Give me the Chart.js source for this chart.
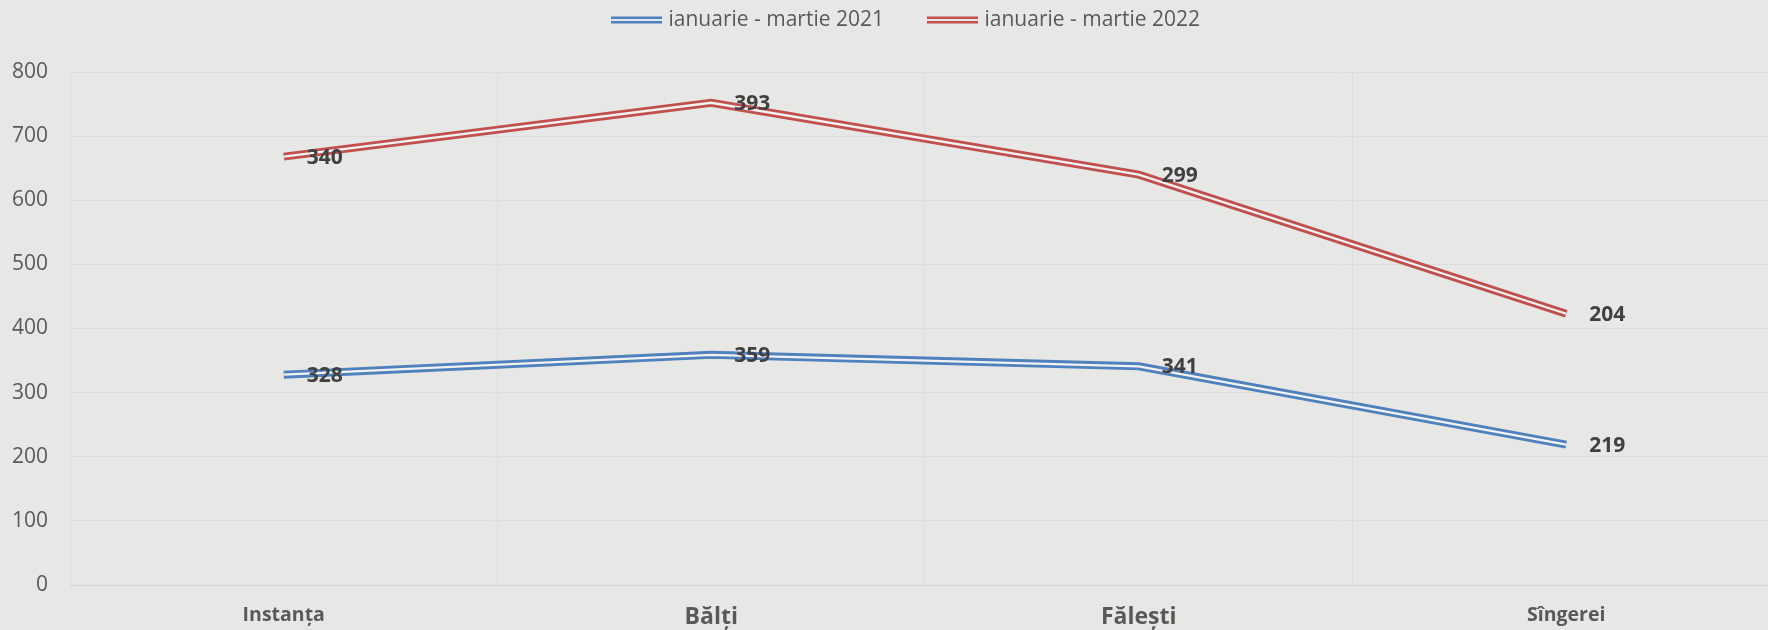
<!DOCTYPE html>
<html><head><meta charset="utf-8">
<script src="https://cdn.jsdelivr.net/npm/chart.js@4"></script>
<style>html,body{margin:0;padding:0;background:#e7e7e6;overflow:hidden}canvas{display:block}</style>
</head><body>
<canvas id="c" width="1768" height="630"></canvas>
<script>
const categories = ['Instanța', 'Bălți', 'Fălești', 'Sîngerei'];
const seriesNames = ['ianuarie - martie 2021', 'ianuarie - martie 2022'];
const values2021 = [328, 359, 341, 219];
const values2022 = [340, 393, 299, 204];

const BG = '#e7e7e6', GAP = '#f2f2f2', BLUE = '#4f81bd', RED = '#c0504d';
const categoryFontSize = [19.5, 23, 23, 19.5];

function legendIcon(color) {
  const c = document.createElement('canvas');
  c.width = 51; c.height = 8;
  const x = c.getContext('2d');
  x.fillStyle = GAP; x.fillRect(0, 2, 51, 4);
  x.fillStyle = color; x.fillRect(0, 0.5, 51, 2.6); x.fillRect(0, 4.9, 51, 2.6);
  return c;
}

const doubleLine = {
  id: 'doubleLine',
  afterDatasetDraw(chart, args) {
    const pts = args.meta.data, ctx = chart.ctx;
    ctx.save();
    ctx.beginPath();
    pts.forEach((p, i) => i ? ctx.lineTo(p.x, p.y) : ctx.moveTo(p.x, p.y));
    ctx.lineWidth = 2.3; ctx.strokeStyle = GAP; ctx.lineJoin = 'miter';
    ctx.stroke();
    ctx.restore();
  }
};

const valueLabels = {
  id: 'valueLabels',
  afterDatasetsDraw(chart) {
    const ctx = chart.ctx;
    ctx.save();
    ctx.font = 'bold 21px "Open Sans"';
    ctx.fillStyle = '#404040';
    ctx.textAlign = 'left';
    ctx.textBaseline = 'middle';
    chart.data.datasets.forEach((ds, i) => {
      chart.getDatasetMeta(i).data.forEach((p, j) => {
        ctx.fillText(String(ds.data[j].y), p.x + 23, p.y + 1);
      });
    });
    ctx.restore();
  }
};

const legendPatch = {
  id: 'legendPatch',
  beforeUpdate(chart) {
    const lg = chart.legend;
    if (!lg || lg._patched) return;
    lg._patched = true;
    const fit = lg.fit.bind(lg);
    lg.fit = function () { fit(); this.height = 72; };
    const draw = lg.draw.bind(lg);
    lg.draw = function (...a) {
      const ctx = chart.ctx;
      ctx.save(); ctx.translate(23, -36.5); draw(...a); ctx.restore();
    };
  }
};

const toPoints = arr => arr.map((v, i) => ({ x: i, y: v }));

new Chart(document.getElementById('c'), {
  type: 'line',
  data: {
    datasets: [
      { label: seriesNames[0], data: toPoints(values2021), borderColor: BLUE, backgroundColor: BLUE,
        borderWidth: 8, pointRadius: 0, pointStyle: legendIcon(BLUE), tension: 0, borderJoinStyle: 'miter', fill: false },
      { label: seriesNames[1], data: toPoints(values2022), borderColor: RED, backgroundColor: RED,
        borderWidth: 8, pointRadius: 0, pointStyle: legendIcon(RED), tension: 0, borderJoinStyle: 'miter', fill: false }
    ]
  },
  options: {
    responsive: false,
    animation: false,
    layout: { padding: 0 },
    plugins: {
      tooltip: { enabled: false },
      legend: {
        position: 'top',
        labels: {
          usePointStyle: true, pointStyleWidth: 44, padding: 46,
          color: '#595959', font: { family: 'Open Sans', size: 21 }
        }
      }
    },
    scales: {
      x: {
        type: 'linear', min: -0.5, max: 3.472, bounds: 'data',
        afterBuildTicks: axis => { axis.ticks = categories.flatMap((c, i) => [i - 0.5, i]).map(v => ({ value: v })); },
        afterFit: s => { s.height = 45; },
        grid: { drawTicks: false, color: ctx => (ctx.tick && Number.isInteger(ctx.tick.value)) ? 'rgba(0,0,0,0)' : '#dddddd', lineWidth: 1 },
        border: { display: true, color: '#d4d4d4', width: 1 },
        ticks: {
          autoSkip: false, maxRotation: 0, padding: 19, color: '#595959',
          callback: v => Number.isInteger(v) ? categories[v] : '',
          font: ctx => ({ family: 'Open Sans', weight: 'bold',
            size: (ctx.tick && Number.isInteger(ctx.tick.value)) ? categoryFontSize[ctx.tick.value] : 19.5 })
        }
      },
      y: {
        stacked: true, min: 0, max: 800,
        afterFit: s => { s.width = 70; },
        grid: { drawTicks: false, color: '#dddddd', lineWidth: 1 },
        border: { display: false },
        ticks: { stepSize: 100, padding: 22, color: '#595959', font: { family: 'Open Sans', size: 21 } }
      }
    }
  },
  plugins: [legendPatch, doubleLine, valueLabels]
});
</script>
</body></html>
